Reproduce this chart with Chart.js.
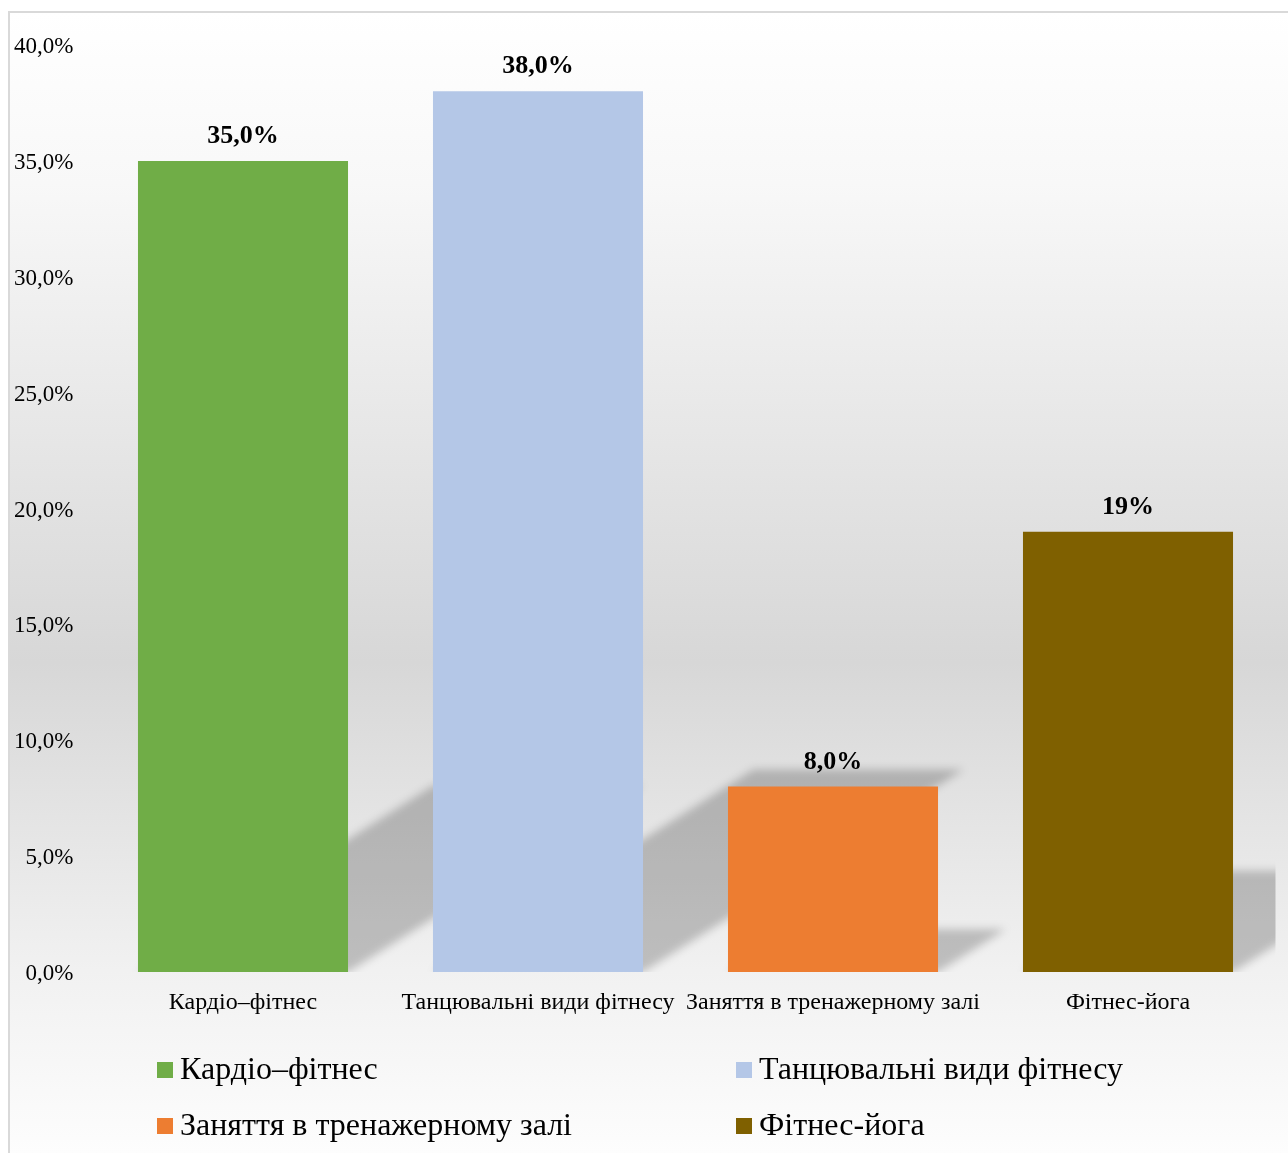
<!DOCTYPE html>
<html>
<head>
<meta charset="utf-8">
<script src="https://cdn.jsdelivr.net/npm/chart.js@4.4.1/dist/chart.umd.min.js"></script>
<style>
  html, body { margin: 0; padding: 0; background: #ffffff; }
  #wrap { position: relative; width: 1288px; height: 1153px; }
</style>
</head>
<body>
<div id="wrap"><canvas id="chart" width="1288" height="1153"></canvas></div>
<script>
// Fitness preferences, share of respondents (%)
const categories = ['Кардіо–фітнес', 'Танцювальні види фітнесу', 'Заняття в тренажерному залі', 'Фітнес-йога'];
const shares = [35, 38, 8, 19];
const shareLabels = ['35,0%', '38,0%', '8,0%', '19%'];
const barColors = ['#70AD47', '#B4C7E7', '#ED7D31', '#7F6000'];
const yTickLabels = ['0,0%', '5,0%', '10,0%', '15,0%', '20,0%', '25,0%', '30,0%', '35,0%', '40,0%'];

const SERIF = '"Liberation Serif", "Times New Roman", "DejaVu Serif", serif';

// Soft vertical gradient behind the whole chart, with a thin frame on the top/left
const backgroundPlugin = {
  id: 'bg',
  beforeDraw(chart) {
    const { ctx, width, height } = chart;
    const top = 12, left = 9;
    ctx.save();
    ctx.fillStyle = '#ffffff';
    ctx.fillRect(0, 0, width, height);
    const g = ctx.createLinearGradient(0, top, 0, height);
    g.addColorStop(0.00, '#ffffff');
    g.addColorStop(0.15, '#f8f8f8');
    g.addColorStop(0.57, '#d7d7d7');
    g.addColorStop(0.84, '#f1f1f1');
    g.addColorStop(1.00, '#fdfdfd');
    ctx.fillStyle = g;
    ctx.fillRect(left, top, width - left, height - top);
    ctx.strokeStyle = '#d9d9d9';
    ctx.lineWidth = 2;
    ctx.beginPath();
    ctx.moveTo(left, height);
    ctx.lineTo(left, top);
    ctx.lineTo(width, top);
    ctx.stroke();
    ctx.restore();
  }
};

// Perspective shadow cast up and to the right of each bar
const shadowPlugin = {
  id: 'barShadow',
  beforeDatasetsDraw(chart) {
    const { ctx, chartArea } = chart;
    const meta = chart.getDatasetMeta(0);
    ctx.save();
    ctx.beginPath();
    ctx.rect(chartArea.left, chartArea.top - 40, chartArea.right - chartArea.left, chartArea.bottom - chartArea.top + 40);
    ctx.clip();
    ctx.filter = 'blur(4px)';
    ctx.fillStyle = 'rgba(0,0,0,0.21)';
    ctx.beginPath();
    meta.data.forEach((bar) => {
      const p = bar.getProps(['x', 'y', 'base', 'width'], true);
      const h = p.base - p.y;
      const x0 = p.x - p.width / 2, x1 = p.x + p.width / 2;
      const dx = h * Math.tan(20 * Math.PI / 180);
      const dy = h * 0.23;
      ctx.moveTo(x0, p.base);
      ctx.lineTo(x1, p.base);
      ctx.lineTo(x1 + dx, p.base - dy);
      ctx.lineTo(x0 + dx, p.base - dy);
      ctx.closePath();
    });
    ctx.fill();
    ctx.restore();
  }
};

// Value labels above bars
const valueLabelPlugin = {
  id: 'valueLabels',
  afterDatasetsDraw(chart) {
    const { ctx } = chart;
    const meta = chart.getDatasetMeta(0);
    ctx.save();
    ctx.font = 'bold 26px ' + SERIF;
    ctx.fillStyle = '#000000';
    ctx.textAlign = 'center';
    ctx.textBaseline = 'alphabetic';
    meta.data.forEach((bar, i) => {
      ctx.fillText(shareLabels[i], bar.x, bar.y - 18);
    });
    ctx.restore();
  }
};

// Two-column legend under the axis
const gridLegendPlugin = {
  id: 'gridLegend',
  afterDraw(chart) {
    const { ctx } = chart;
    const colX = [157, 736];
    const rowY = [1070, 1126];
    ctx.save();
    ctx.font = '32px ' + SERIF;
    ctx.textBaseline = 'middle';
    ctx.textAlign = 'left';
    chart.data.labels.forEach((label, i) => {
      const x = colX[i % 2];
      const y = rowY[Math.floor(i / 2)];
      ctx.fillStyle = chart.data.datasets[0].backgroundColor[i];
      ctx.fillRect(x, y - 8, 16, 16);
      ctx.fillStyle = '#000000';
      ctx.fillText(label, x + 23, y + 1);
    });
    ctx.restore();
  }
};

new Chart(document.getElementById('chart'), {
  type: 'bar',
  data: {
    labels: categories,
    datasets: [{
      data: shares,
      backgroundColor: barColors,
      borderWidth: 0,
      barPercentage: 0.712,
      categoryPercentage: 1.0
    }]
  },
  options: {
    responsive: false,
    animation: false,
    devicePixelRatio: 1,
    layout: { padding: { top: 45, right: 12.5, left: 0, bottom: 0 } },
    plugins: {
      legend: { display: false },
      tooltip: { enabled: false }
    },
    scales: {
      x: {
        grid: { display: false, drawTicks: false },
        border: { display: false },
        ticks: {
          color: '#000000',
          font: { family: SERIF, size: 24 },
          padding: 16,
          maxRotation: 0,
          minRotation: 0,
          autoSkip: false
        },
        afterFit(scale) { scale.height = 181; }
      },
      y: {
        min: 0,
        max: 40,
        grid: { display: false, drawTicks: false },
        border: { display: false },
        ticks: {
          stepSize: 5,
          color: '#000000',
          font: { family: SERIF, size: 23 },
          padding: 22,
          labelOffset: 2,
          callback: (value, index) => yTickLabels[index]
        },
        afterFit(scale) { scale.width = 95.5; }
      }
    }
  },
  plugins: [backgroundPlugin, shadowPlugin, valueLabelPlugin, gridLegendPlugin]
});
</script>
</body>
</html>
